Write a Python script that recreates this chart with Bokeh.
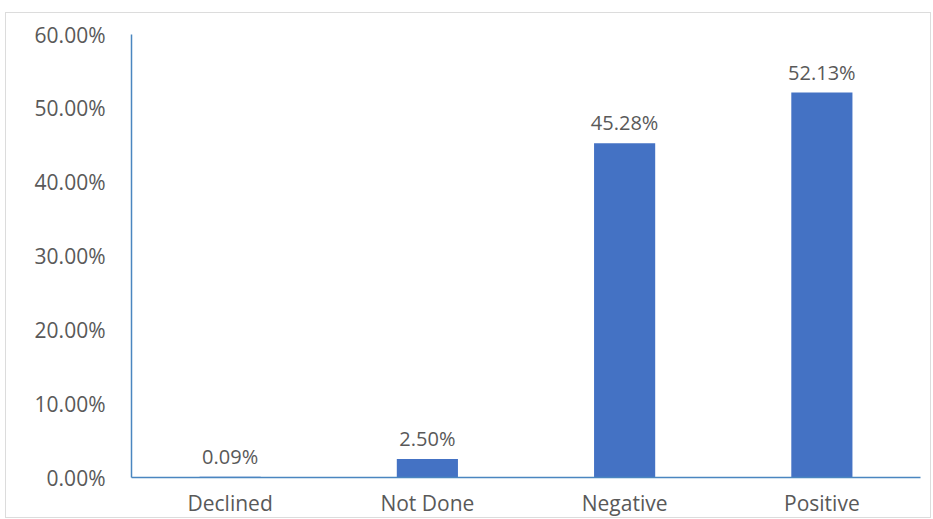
from bokeh.plotting import figure
from bokeh.models import ColumnDataSource, FactorRange, LabelSet, CustomJSTickFormatter
from bokeh.core.properties import value
from bokeh.embed import file_html
from bokeh.resources import INLINE

categories = ["Declined", "Not Done", "Negative", "Positive"]
values = [0.09, 2.50, 45.28, 52.13]
labels = ["0.09%", "2.50%", "45.28%", "52.13%"]
y_ticks = [0, 10, 20, 30, 40, 50, 60]

src = ColumnDataSource(dict(cat=categories, val=values, lab=labels))

FONT = "Open Sans"
GRAY = "#595959"
AXIS = "#4a86c0"

p = figure(x_range=FactorRange(*categories, range_padding=0), y_range=(0, 60),
           width=926, height=506, output_backend="svg", toolbar_location=None,
           min_border_left=125, min_border_right=12, min_border_top=21, min_border_bottom=36)
p.styles = {"border": "1px solid #dcdcdc", "margin-left": "5px", "margin-top": "12px"}

p.vbar(x="cat", top="val", width=0.31, source=src, color="#4472c4", line_color=None)

p.add_layout(LabelSet(x="cat", y="val", text="lab", source=src, text_align="center",
                      text_baseline="bottom", y_offset=7, text_font=value(FONT),
                      text_font_size="20px", text_color=GRAY))

p.xgrid.visible = False
p.ygrid.visible = False
p.outline_line_color = None

p.yaxis.ticker = y_ticks
p.yaxis.formatter = CustomJSTickFormatter(code="return tick.toFixed(2) + '%';")
for ax in (p.xaxis, p.yaxis):
    ax.axis_line_color = AXIS
    ax.axis_line_width = 1.5
    ax.major_tick_line_color = None
    ax.minor_tick_line_color = None
    ax.major_label_text_font = FONT
    ax.major_label_text_color = GRAY
p.yaxis.major_label_text_font_size = "21px"
p.xaxis.major_label_text_font_size = "21px"
p.yaxis.major_label_standoff = 20
p.xaxis.major_label_standoff = 5

open("out.html", "w").write(file_html(p, INLINE))
